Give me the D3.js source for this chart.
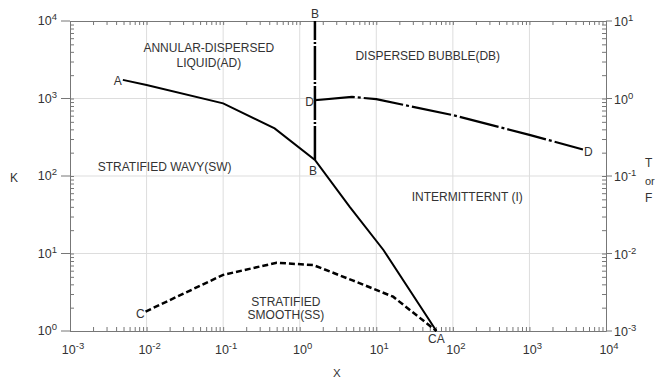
<!DOCTYPE html>
<html>
<head>
<meta charset="utf-8">
<script src="https://cdn.jsdelivr.net/npm/d3@7"></script>
<style>
body { margin: 0; background: #fff; }
text { font-family: "Liberation Sans", Arial, sans-serif; fill: #333; }
</style>
</head>
<body>
<svg width="655" height="381"></svg>
<script>
// boundary curves
var curveAX = [0.0049, 0.01, 0.1, 0.47, 1.58, 4.5, 12.4, 61];
var curveAK = [1740, 1490, 866, 412, 161, 40, 11.1, 1.0];

var curveBX = [1.58, 1.58];
var curveBK = [161, 10000];

var curveCX = [0.0097, 0.1, 0.5, 1.5, 4.9, 16.6, 61];
var curveCK = [1.78, 5.3, 7.6, 7.1, 4.5, 2.77, 1.0];

var curveDX = [1.58, 4.8, 10, 100, 1000, 5000];
var curveDT = [0.95, 1.05, 0.98, 0.61, 0.34, 0.22];

var xExps = [-3, -2, -1, 0, 1, 2, 3, 4];
var kExps = [0, 1, 2, 3, 4];
var tExps = [-3, -2, -1, 0, 1];

var regionLabels = [
	{lines: ['ANNULAR-DISPERSED', 'LIQUID(AD)'], x: 0.065, k: 3980, gap: 15, anchor: 'middle'},
	{lines: ['DISPERSED BUBBLE(DB)'], x: 47, k: 3140, gap: 0, anchor: 'middle'},
	{lines: ['STRATIFIED WAVY(SW)'], x: 0.0023, k: 116, gap: 0, anchor: 'start'},
	{lines: ['INTERMITTERNT (I)'], x: 29, k: 48, gap: 0, anchor: 'start'},
	{lines: ['STRATIFIED', 'SMOOTH(SS)'], x: 0.66, k: 2.1, gap: 12.5, anchor: 'middle'}
];

function main() {
	var svg = d3.select('svg');
	var left = 70, right = 606, top = 21, bottom = 331;

	var x = d3.scaleLog().domain([1e-3, 1e4]).range([left, right]);
	var yK = d3.scaleLog().domain([1, 1e4]).range([bottom, top]);
	var yT = d3.scaleLog().domain([1e-3, 1e1]).range([bottom, top]);

	// grid
	var grid = svg.append('g');
	xExps.slice(1, -1).forEach(function(e) {
		grid.append('line').attr('x1', x(Math.pow(10, e))).attr('x2', x(Math.pow(10, e)))
			.attr('y1', top).attr('y2', bottom).attr('stroke', '#ddd').attr('stroke-width', 1);
	});
	kExps.slice(1, -1).forEach(function(e) {
		grid.append('line').attr('y1', yK(Math.pow(10, e))).attr('y2', yK(Math.pow(10, e)))
			.attr('x1', left).attr('x2', right).attr('stroke', '#ddd').attr('stroke-width', 1);
	});

	// axes with inward minor ticks
	var fmt = function() { return ''; };
	var axB = svg.append('g').attr('transform', 'translate(0,' + bottom + ')')
		.call(d3.axisTop(x).ticks(20, fmt).tickSize(4).tickSizeOuter(0));
	var axT = svg.append('g').attr('transform', 'translate(0,' + top + ')')
		.call(d3.axisBottom(x).ticks(20, fmt).tickSize(4).tickSizeOuter(0));
	var axL = svg.append('g').attr('transform', 'translate(' + left + ',0)')
		.call(d3.axisRight(yK).ticks(20, fmt).tickSize(4).tickSizeOuter(0));
	var axR = svg.append('g').attr('transform', 'translate(' + right + ',0)')
		.call(d3.axisLeft(yT).ticks(20, fmt).tickSize(4).tickSizeOuter(0));
	[axB, axT, axL, axR].forEach(function(a) {
		a.select('.domain').attr('stroke', '#777');
		a.selectAll('.tick line').attr('stroke', '#777');
	});

	// outward major ticks on left and right
	kExps.forEach(function(e) {
		svg.append('line').attr('x1', left - 9).attr('x2', left)
			.attr('y1', yK(Math.pow(10, e))).attr('y2', yK(Math.pow(10, e))).attr('stroke', '#777');
	});
	tExps.forEach(function(e) {
		svg.append('line').attr('x1', right).attr('x2', right + 6)
			.attr('y1', yT(Math.pow(10, e))).attr('y2', yT(Math.pow(10, e))).attr('stroke', '#777');
	});

	function powLabel(g, e, px, py, anchor) {
		var t = g.append('text').attr('x', px).attr('y', py).attr('text-anchor', anchor)
			.style('font-size', '12.5px');
		t.append('tspan').text('10');
		t.append('tspan').attr('dy', -5).style('font-size', '9.5px').text(e);
		return t;
	}
	var labels = svg.append('g');
	xExps.forEach(function(e) { powLabel(labels, e, x(Math.pow(10, e)) + 3, 354, 'middle'); });
	kExps.forEach(function(e) { powLabel(labels, e, 57, yK(Math.pow(10, e)) + 4, 'end'); });
	tExps.forEach(function(e) { powLabel(labels, e, 614, yT(Math.pow(10, e)) + 5, 'start'); });

	// axis titles
	svg.append('text').attr('x', 10).attr('y', 182).style('font-size', '12px').text('K');
	svg.append('text').attr('x', 333).attr('y', 377).style('font-size', '11.5px').text('X');
	svg.append('text').attr('x', 645).attr('y', 167).style('font-size', '12px').text('T');
	svg.append('text').attr('x', 645).attr('y', 185).style('font-size', '11px').text('or');
	svg.append('text').attr('x', 645).attr('y', 202).style('font-size', '12px').text('F');

	// curves
	var lineK = d3.line().x(function(d) { return x(d[0]); }).y(function(d) { return yK(d[1]); });
	var lineT = d3.line().x(function(d) { return x(d[0]); }).y(function(d) { return yT(d[1]); });

	svg.append('path').datum(d3.zip(curveAX, curveAK)).attr('d', lineK)
		.attr('fill', 'none').attr('stroke', '#000').attr('stroke-width', 2);
	svg.append('path').datum(d3.zip(curveBX, curveBK)).attr('d', lineK)
		.attr('fill', 'none').attr('stroke', '#000').attr('stroke-width', 2.5)
		.attr('stroke-dasharray', '34,2,2,2');
	svg.append('path').datum(d3.zip(curveCX, curveCK)).attr('d', lineK)
		.attr('fill', 'none').attr('stroke', '#000').attr('stroke-width', 2.5)
		.attr('stroke-dasharray', '6,3');
	svg.append('path').datum(d3.zip(curveDX, curveDT)).attr('d', lineT)
		.attr('fill', 'none').attr('stroke', '#000').attr('stroke-width', 2.2)
		.attr('stroke-dasharray', '40,3,3,3');

	// point letters
	var pts = [
		['A', x(curveAX[0]) - 1, yK(curveAK[0]) + 5, 'end'],
		['B', x(curveBX[1]), top - 3, 'middle'],
		['B', x(curveBX[0]) - 2, yK(curveBK[0]) + 15, 'middle'],
		['D', x(curveDX[0]) - 1, yT(curveDT[0]) + 6, 'end'],
		['D', x(curveDX[curveDX.length - 1]) + 1, yT(curveDT[curveDT.length - 1]) + 7, 'start'],
		['C', x(curveCX[0]) - 1, yK(curveCK[0]) + 6, 'end'],
		['CA', x(curveAX[curveAX.length - 1]), bottom + 12, 'middle']
	];
	pts.forEach(function(p) {
		svg.append('text').attr('x', p[1]).attr('y', p[2]).attr('text-anchor', p[3])
			.style('font-size', '12px').text(p[0]);
	});

	// region names
	regionLabels.forEach(function(r) {
		var t = svg.append('text').attr('text-anchor', r.anchor).style('font-size', '12px');
		r.lines.forEach(function(s, i) {
			t.append('tspan').attr('x', x(r.x)).attr('y', yK(r.k) + i * r.gap).text(s);
		});
	});
}
main();
</script>
</body>
</html>
